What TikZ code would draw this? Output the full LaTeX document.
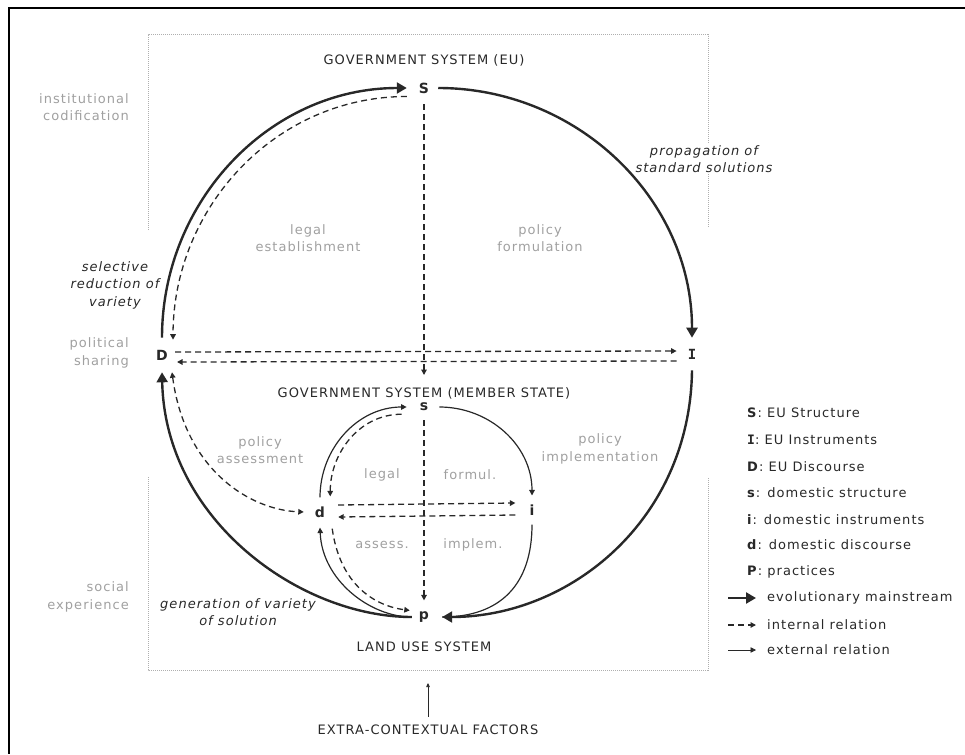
\documentclass[tikz,border=0pt]{standalone}
\usepackage{fontspec}
\setmainfont{DejaVu Sans}[LetterSpace=8]
\newfontfamily\keymono{DejaVu Sans Mono}
\usetikzlibrary{arrows.meta, positioning}

\definecolor{areagray}{RGB}{160,160,160}
\definecolor{framegray}{RGB}{175,175,175}
\definecolor{inkgray}{RGB}{40,40,40}

\tikzset{
  keynode/.style={font=\fontsize{14}{16}\selectfont\bfseries, text=inkgray, inner sep=3pt},
  system/.style={text=inkgray, inner sep=2pt},
  area/.style={text=areagray, align=center, inner sep=1pt},
  side/.style={text=areagray, align=right, anchor=east, inner sep=1pt},
  remark/.style={font=\itshape, text=inkgray, align=center, inner sep=1pt},
  legend/.style={anchor=west, text=inkgray, inner sep=0pt},
  mainstream/.style={draw=inkgray, line width=2.4pt, -{Triangle[length=10pt,width=11pt]}},
  internal/.style={draw=inkgray, line width=1.3pt, dash pattern=on 6pt off 4pt, ->},
  external/.style={draw=inkgray, line width=1.2pt, ->},
  framing/.style={draw=framegray, line width=1pt, densely dotted},
}

\begin{document}
\fontsize{13}{17.5}\selectfont
\begin{tikzpicture}[x=1pt, y=-1pt, >={Triangle[length=5.5pt,width=5.5pt]}]
  \useasboundingbox (0,0) rectangle (965,754);

  % outer frame and the dotted system box
  \draw[line width=2pt, black] (965,8) -- (9,8) -- (9,754);
  \draw[framing] (148,230) -- (148,35) -- (708,35) -- (708,227);
  \draw[framing] (148,477) -- (148,670) -- (708,670) -- (708,478);

  % system titles
  \node[system] (euTitle) at (424,60) {GOVERNMENT SYSTEM (EU)};
  \node[system] (msTitle) at (424,393) {GOVERNMENT SYSTEM (MEMBER STATE)};
  \node[system] (landTitle) at (424,647) {LAND USE SYSTEM};
  \node[system] (extra) at (428,730) {EXTRA-CONTEXTUAL FACTORS};

  % EU level and domestic level
  \node[keynode] (S) at (424,88) {S};
  \node[keynode] (I) at (692,354) {\keymono I};
  \node[keynode] (D) at (162,355) {D};
  \node[keynode] (s) at (424,407) {s};
  \node[keynode] (i) at (532,510) {i};
  \node[keynode] (d) at (320,512) {d};
  \node[keynode] (p) at (424,617) {p};

  % side labels
  \node[side] (codif) at (130,107) {institutional\\codification};
  \node[side] (sharing) at (130,353) {political\\sharing};
  \node[side] (social) at (130,597) {social\\experience};

  % quadrants
  \node[area] (legalEst) at (308,238) {legal\\establishment};
  \node[area] (formEU) at (540,238) {policy\\formulation};
  \node[area] (assessEU) at (260,450) {policy\\assessment};
  \node[area] (implEU) at (600,449) {policy\\implementation};
  \node[area] (legalMS) at (382,475) {legal};
  \node[area] (formMS) at (470,475) {formul.};
  \node[area] (assessMS) at (382,545) {assess.};
  \node[area] (implMS) at (473,545) {implem.};

  \node[remark, fill=white] (propag) at (704,159) {propagation of\\standard solutions};
  \node[remark] (select) at (115,285) {selective\\reduction of\\variety};
  \node[remark] (generat) at (238,612) {generation of variety\\of solution};

  % evolutionary loop, EU level
  \draw[mainstream] ([xshift=6pt]S.east) to[out=0,in=90] ([yshift=8pt]I.north);
  \draw[mainstream] ([yshift=9pt]D.north) to[out=90,in=180] ([xshift=-9pt]S.west);
  \draw[internal] ([xshift=-9pt]S.south west) to[out=180,in=90] ([xshift=2pt,yshift=7pt]D.north east);
  \draw[internal] ([xshift=4pt,yshift=3pt]D.east) -- ([xshift=-8pt,yshift=3pt]I.west);
  \draw[internal] ([xshift=-8pt,yshift=-7pt]I.west) -- ([xshift=6pt,yshift=-7pt]D.east);
  \draw[internal] ([yshift=-8pt]S.south) -- ([yshift=10pt]msTitle.north);

  % domestic loop
  \draw[external] ([xshift=8pt]s.east) to[out=0,in=90] ([yshift=6pt]i.north);
  \draw[external] ([yshift=6pt]d.north) to[out=90,in=180] ([xshift=-10pt]s.west);
  \draw[internal] ([xshift=-15pt]s.south west) to[out=180,in=90] ([xshift=2pt,yshift=7pt]d.north east);
  \draw[internal] ([xshift=10pt,yshift=7pt]d.east) -- ([xshift=-11pt,yshift=7pt]i.west);
  \draw[internal] ([xshift=-11pt,yshift=-5pt]i.west) -- ([xshift=10pt,yshift=-5pt]d.east);
  \draw[internal] ([yshift=-6pt]s.south) -- ([yshift=8pt]p.north);
  \draw[draw=inkgray, line width=1.2pt] ([yshift=-6pt]i.south) .. controls (532,585) and (500,617) .. ([xshift=10pt]p.east);
  \draw[external] ([xshift=-4pt]p.west) .. controls (370,617) and (322,580) .. ([yshift=-7pt]d.south);
  \draw[internal] ([xshift=4pt,yshift=-8pt]d.south east) .. controls (340,585) and (375,606) .. ([xshift=-6pt,yshift=-2pt]p.north west);

  % practices feeding back to both levels
  \draw[mainstream] ([yshift=-8pt]I.south) .. controls (690,520) and (570,617) .. ([xshift=10pt]p.east);
  \draw[mainstream] ([xshift=-4pt]p.west) .. controls (300,617) and (165,520) .. ([yshift=-9pt]D.south);
  \draw[internal, <->] ([xshift=10pt,yshift=-9pt]D.south) .. controls (185,470) and (250,510) .. ([xshift=-8pt]d.west);

  % outside influence
  \coordinate (extraTip) at (428,683);
  \draw[draw=inkgray, line width=0.7pt, -{Triangle[length=4pt,width=3.5pt]}] ([yshift=6pt]extra.north) -- (extraTip);

  % key
  \node[legend] (kS) at (747,413) {\textbf{S}: EU Structure};
  \node[legend] (kI) at (747,440) {{\keymono\bfseries I}: EU Instruments};
  \node[legend] (kD) at (747,467) {\textbf{D}: EU Discourse};
  \node[legend] (ks) at (747,493) {\textbf{s}: domestic structure};
  \node[legend] (ki) at (747,520) {\textbf{i}: domestic instruments};
  \node[legend] (kd) at (747,545) {\textbf{d}: domestic discourse};
  \node[legend] (kP) at (747,572) {\textbf{P}: practices};
  \node[legend] (kMain) at (767,598) {evolutionary mainstream};
  \node[legend] (kInt) at (767,625) {internal relation};
  \node[legend] (kExt) at (767,650) {external relation};
  \coordinate (kMainFrom) at (728,598);
  \coordinate (kIntFrom) at (728,625);
  \coordinate (kExtFrom) at (728,650);
  \draw[mainstream] (kMainFrom) -- ([xshift=-11pt]kMain.west);
  \draw[internal] (kIntFrom) -- ([xshift=-11pt]kInt.west);
  \draw[external, line width=0.8pt] (kExtFrom) -- ([xshift=-11pt]kExt.west);
\end{tikzpicture}
\end{document}
